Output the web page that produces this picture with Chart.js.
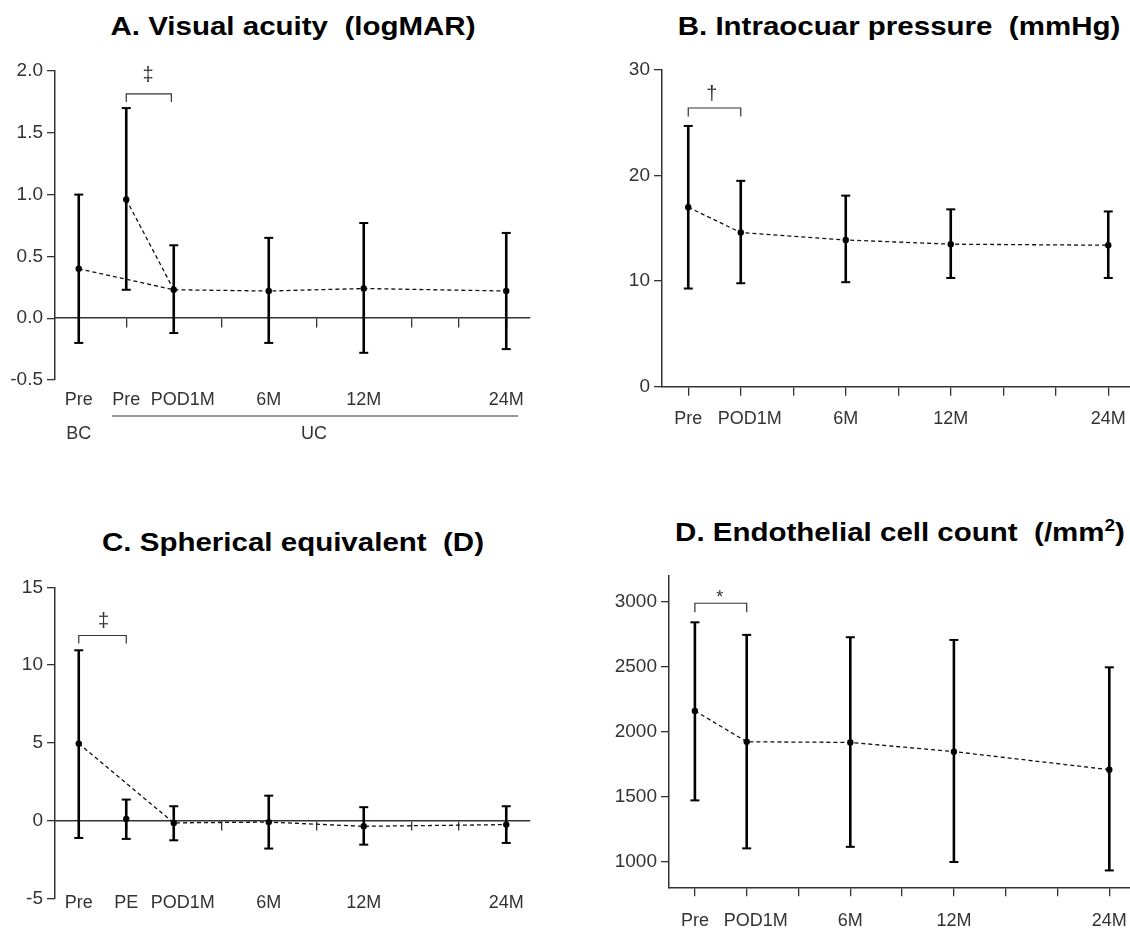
<!DOCTYPE html>
<html>
<head>
<meta charset="utf-8">
<script src="https://cdn.jsdelivr.net/npm/chart.js@4.4.0/dist/chart.umd.min.js"></script>
<style>
  html, body { margin: 0; padding: 0; background: #fff; width: 1130px; height: 930px; overflow: hidden; }
  canvas { position: absolute; }
  .title {
    position: absolute; width: 600px; text-align: center; white-space: pre; color: #000;
    font: bold 25px "Liberation Sans", Arial, sans-serif; line-height: 25px;
    transform: scaleX(1.18); transform-origin: 50% 50%;
  }
  .sup { font-size: 16px; position: relative; top: -10px; }
</style>
</head>
<body>
<div class="title" style="left:-7px;top:14px">A. Visual acuity  (logMAR)</div>
<div class="title" style="left:599px;top:14px">B. Intraocuar pressure  (mmHg)</div>
<div class="title" style="left:-7px;top:530px">C. Spherical equivalent  (D)</div>
<div class="title" style="left:600px;top:520px">D. Endothelial cell count  (/mm<span class="sup">2</span>)</div>
<canvas id="chartA"></canvas>
<canvas id="chartB"></canvas>
<canvas id="chartC"></canvas>
<canvas id="chartD"></canvas>
<script>
// A. visual acuity (logMAR) - BC pre, then UC
const aCats  = ['Pre', 'Pre', '\u2003POD1M', '', '6M', '', '12M', '', '', '24M'];
const aMean  = [0.40, 0.96, 0.23, null, 0.22, null, 0.24, null, null, 0.22];
const aUpper = [1.00, 1.70, 0.59, null, 0.65, null, 0.77, null, null, 0.69];
const aLower = [-0.20, 0.23, -0.12, null, -0.20, null, -0.28, null, null, -0.25];
const aTicks = [-0.5, 0, 0.5, 1.0, 1.5, 2.0];

// B. intraocular pressure (mmHg)
const bCats  = ['Pre', '\u2003POD1M', '', '6M', '', '12M', '', '', '24M', ''];
const bMean  = [17.0, 14.6, null, 13.9, null, 13.5, null, null, 13.4, null];
const bUpper = [24.7, 19.5, null, 18.1, null, 16.8, null, null, 16.6, null];
const bLower = [9.3, 9.8, null, 9.9, null, 10.3, null, null, 10.3, null];
const bTicks = [0, 10, 20, 30];

// C. spherical equivalent (D)
const cCats  = ['Pre', 'PE', '\u2003POD1M', '', '6M', '', '12M', '', '', '24M'];
const cMean  = [4.95, 0.1, -0.15, null, -0.1, null, -0.37, null, null, -0.26];
const cUpper = [10.95, 1.35, 0.92, null, 1.6, null, 0.86, null, null, 0.92];
const cLower = [-1.12, -1.18, -1.27, null, -1.8, null, -1.55, null, null, -1.44];
const cTicks = [-5, 0, 5, 10, 15];

// D. endothelial cell count (/mm2)
const dCats  = ['Pre', '\u2003POD1M', '', '6M', '', '12M', '', '', '24M', ''];
const dMean  = [2160, 1922, null, 1917, null, 1846, null, null, 1707, null];
const dUpper = [2843, 2746, null, 2728, null, 2707, null, null, 2496, null];
const dLower = [1470, 1100, null, 1112, null, 995, null, null, 930, null];
const dTicks = [1000, 1500, 2000, 2500, 3000];

const FONT = '"Liberation Sans", Arial, sans-serif';
const AXIS = '#333';
const TEXT = '#333';

// error bars, significance brackets and group labels drawn through the scales
const errorBars = {
  id: 'errorBars',
  afterDatasetsDraw(chart, args, opts) {
    const ctx = chart.ctx;
    const xs = chart.scales.x, ys = chart.scales.y;
    ctx.save();
    ctx.strokeStyle = '#000';
    opts.upper.forEach((hi, i) => {
      const lo = opts.lower[i];
      if (hi == null || lo == null) return;
      const px = xs.getPixelForValue(i);
      const y1 = ys.getPixelForValue(hi), y2 = ys.getPixelForValue(lo);
      ctx.lineWidth = 2.6;
      ctx.beginPath(); ctx.moveTo(px, y1); ctx.lineTo(px, y2); ctx.stroke();
      ctx.lineWidth = 2;
      [y1, y2].forEach(y => {
        ctx.beginPath(); ctx.moveTo(px - 4.5, y); ctx.lineTo(px + 4.5, y); ctx.stroke();
      });
    });

    (opts.brackets || []).forEach(b => {
      const xa = xs.getPixelForValue(b.from), xb = xs.getPixelForValue(b.to);
      const yt = ys.getPixelForValue(b.top), yl = ys.getPixelForValue(b.leg);
      ctx.strokeStyle = AXIS;
      ctx.lineWidth = 1.2;
      ctx.beginPath();
      ctx.moveTo(xa, yl); ctx.lineTo(xa, yt); ctx.lineTo(xb, yt); ctx.lineTo(xb, yl);
      ctx.stroke();
      ctx.fillStyle = AXIS;
      ctx.font = b.size + 'px ' + FONT;
      ctx.textAlign = 'center';
      ctx.textBaseline = 'middle';
      ctx.fillText(b.mark, xs.getPixelForValue(b.markAt), ys.getPixelForValue(b.markY));
    });

    if (opts.groups) {
      const g = opts.groups;
      const base = chart.chartArea.bottom;
      ctx.strokeStyle = AXIS;
      ctx.lineWidth = 1.2;
      ctx.beginPath();
      ctx.moveTo(xs.getPixelForValue(g.from), base + g.lineDy);
      ctx.lineTo(xs.getPixelForValue(g.to), base + g.lineDy);
      ctx.stroke();
      ctx.fillStyle = TEXT;
      ctx.font = '18px ' + FONT;
      ctx.textAlign = 'center';
      ctx.textBaseline = 'middle';
      g.items.forEach(it => ctx.fillText(it.text, xs.getPixelForValue(it.at), base + g.textDy));
    }
    ctx.restore();
  }
};

function pick(arr, idx) {
  return arr.map((v, i) => idx.includes(i) ? v : null);
}

function makePanel(id, f, c) {
  const canvas = document.getElementById(id);
  canvas.width = f.w;
  canvas.height = f.h;
  canvas.style.left = f.x + 'px';
  canvas.style.top = f.y + 'px';

  const datasets = c.paths.map(p => ({
    data: pick(c.mean, p),
    spanGaps: true,
    borderColor: '#111',
    borderWidth: 1.3,
    borderDash: [4, 3],
    pointRadius: 0,
    tension: 0,
    fill: false
  }));
  datasets.push({
    data: c.mean,
    showLine: false,
    pointRadius: 3.2,
    pointBackgroundColor: '#000',
    pointBorderWidth: 0
  });

  const scales = {
    x: {
      type: 'category',
      position: 'bottom',
      offset: true,
      border: { display: !c.zeroAxis, color: AXIS, width: 1.5 },
      grid: { display: !c.zeroAxis, drawOnChartArea: false, drawTicks: !c.zeroAxis, tickLength: 9, color: AXIS, lineWidth: 1.3, offset: false },
      ticks: { autoSkip: false, maxRotation: 0, minRotation: 0, padding: c.labelPad, color: TEXT, font: { family: FONT, size: 18 } },
      afterFit: s => { s.height = f.y + f.h - f.area.b; },
      // labels may sit a little above the axis box (panel C), so do not clip them
      afterUpdate: s => { s._computeLabelArea = () => undefined; }
    },
    y: {
      type: 'linear',
      min: c.yMin,
      max: c.yMax,
      border: { display: true, color: AXIS, width: 1.5 },
      grid: { display: true, drawOnChartArea: false, drawTicks: true, tickLength: 8, color: AXIS, lineWidth: 1.3 },
      ticks: { padding: 4, color: TEXT, font: { family: FONT, size: 19 }, callback: c.yFmt },
      afterBuildTicks: s => { s.ticks = c.yTicks.map(v => ({ value: v })); },
      afterFit: s => { s.width = f.area.l - f.x; }
    }
  };
  if (c.zeroAxis) {
    scales.x0 = {
      type: 'category',
      axis: 'x',
      position: { y: 0 },
      offset: true,
      border: { display: true, color: AXIS, width: 1.5 },
      grid: { display: true, drawOnChartArea: false, drawTicks: true, tickLength: 9, color: AXIS, lineWidth: 1.3, offset: false },
      ticks: { display: false }
    };
  }

  return new Chart(canvas, {
    type: 'line',
    data: { labels: c.cats, datasets: datasets },
    options: {
      responsive: false,
      animation: false,
      layout: { padding: { top: f.area.t - f.y, right: f.x + f.w - f.area.r, bottom: 0, left: 0 } },
      plugins: {
        legend: { display: false },
        tooltip: { enabled: false },
        errorBars: { upper: c.upper, lower: c.lower, brackets: c.brackets, groups: c.groups }
      },
      scales: scales
    },
    plugins: [errorBars]
  });
}

const oneDecimal = v => v.toFixed(1);
const plain = v => String(v);

makePanel('chartA', { x: 0, y: 45, w: 565, h: 420, area: { l: 55, t: 71, r: 530, b: 380 } }, {
  cats: aCats, mean: aMean, upper: aUpper, lower: aLower,
  paths: [[0, 2, 4, 6, 9], [1, 2]],
  yMin: -0.5, yMax: 2.0, yTicks: aTicks, yFmt: oneDecimal,
  zeroAxis: true, labelPad: 9,
  brackets: [{ from: 1, to: 1.95, top: 1.815, leg: 1.75, mark: '‡', size: 20, markAt: 1.46, markY: 1.96 }],
  groups: { from: 0.7, to: 9.25, lineDy: 36, textDy: 54, items: [{ text: 'BC', at: 0 }, { text: 'UC', at: 4.95 }] }
});

makePanel('chartB', { x: 570, y: 40, w: 630, h: 420, area: { l: 662, t: 70, r: 1187, b: 386.7 } }, {
  cats: bCats, mean: bMean, upper: bUpper, lower: bLower,
  paths: [[0, 1, 3, 5, 8]],
  yMin: 0, yMax: 30, yTicks: bTicks, yFmt: plain,
  zeroAxis: false, labelPad: 13,
  brackets: [{ from: 0, to: 1, top: 26.4, leg: 25.6, mark: '†', size: 20, markAt: 0.45, markY: 27.7 }]
});

makePanel('chartC', { x: 0, y: 555, w: 565, h: 375, area: { l: 55, t: 587.3, r: 530, b: 898.3 } }, {
  cats: cCats, mean: cMean, upper: cUpper, lower: cLower,
  paths: [[0, 2, 4, 6, 9]],
  yMin: -5, yMax: 15, yTicks: cTicks, yFmt: plain,
  zeroAxis: true, labelPad: -6,
  brackets: [{ from: 0, to: 1, top: 11.9, leg: 11.38, mark: '‡', size: 20, markAt: 0.52, markY: 12.8 }]
});

makePanel('chartD', { x: 570, y: 550, w: 630, h: 380, area: { l: 669, t: 576, r: 1187, b: 887.3 } }, {
  cats: dCats, mean: dMean, upper: dUpper, lower: dLower,
  paths: [[0, 1, 3, 5, 8]],
  yMin: 800, yMax: 3200, yTicks: dTicks, yFmt: plain,
  zeroAxis: false, labelPad: 14,
  brackets: [{ from: 0, to: 1, top: 2990, leg: 2920, mark: '*', size: 18, markAt: 0.48, markY: 3030 }]
});
</script>
</body>
</html>
